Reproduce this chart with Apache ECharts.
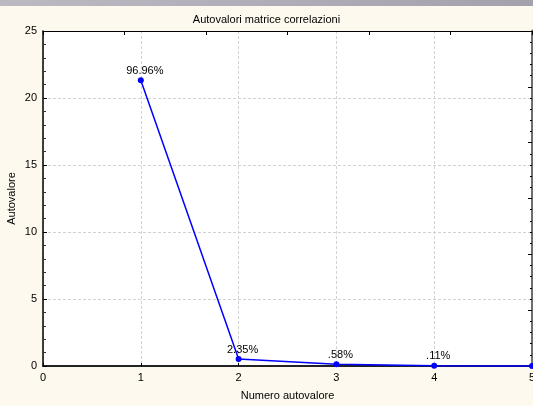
<!DOCTYPE html>
<html>
<head>
<meta charset="utf-8">
<script src="https://cdn.jsdelivr.net/npm/echarts@6/dist/echarts.min.js"></script>
<style>
  html, body { margin: 0; padding: 0; background: #fdf9ee; }
  #chart { width: 533px; height: 406px; }
</style>
</head>
<body>
<div id="chart"></div>
<script>
// Eigenvalues of the correlation matrix (scree plot)
const eigenIndex = [1, 2, 3, 4, 5];
const eigenValues = [21.33, 0.517, 0.128, 0.024, 0.003];
const varianceLabels = ['96.96%', '2.35%', '.58%', '.11%', ''];

const FONT = '"Liberation Sans", Arial, sans-serif';

const chart = echarts.init(document.getElementById('chart'), null, { renderer: 'canvas' });

const seriesData = eigenIndex.map((x, i) => ({
  value: [x, eigenValues[i]],
  label: { formatter: varianceLabels[i] }
}));

const gridLine = { show: true, lineStyle: { color: '#d2d2d2', type: [3, 2], width: 1 } };

chart.setOption({
  backgroundColor: '#fdf9ee',
  animation: false,
  title: {
    text: 'Autovalori matrice correlazioni',
    left: 'center',
    top: 9,
    textStyle: { fontFamily: FONT, fontSize: 11, fontWeight: 'normal', color: '#000' }
  },
  graphic: [{
    type: 'rect',
    left: 0, top: 0,
    shape: { width: 533, height: 6 },
    style: {
      fill: new echarts.graphic.LinearGradient(0, 0, 1, 0, [
        { offset: 0, color: '#bcb9c3' },
        { offset: 1, color: '#a3a1ab' }
      ])
    },
    silent: true
  }],
  grid: {
    left: 43, right: 1, top: 31, bottom: 40,
    containLabel: false,
    outerBoundsMode: 'none',
    backgroundColor: '#fff', show: true, borderWidth: 0
  },
  xAxis: [{
    type: 'value',
    min: 0, max: 5, interval: 1,
    name: 'Numero autovalore',
    nameLocation: 'middle',
    nameGap: 24,
    nameMoveOverlap: false,
    nameTextStyle: { fontFamily: FONT, fontSize: 11, color: '#000' },
    axisLine: { onZero: false, lineStyle: { color: '#222', width: 2 } },
    axisTick: { inside: true, length: 3, lineStyle: { color: '#000' } },
    axisLabel: { fontFamily: FONT, fontSize: 11, color: '#000', margin: 6 },
    splitLine: gridLine
  }, {
    type: 'value',
    position: 'top',
    min: 0, max: 6, interval: 1,
    axisLine: { onZero: false, lineStyle: { color: '#000', width: 1 } },
    axisTick: { inside: true, length: 4, lineStyle: { color: '#000' } },
    axisLabel: { show: false },
    splitLine: { show: false }
  }],
  yAxis: [{
    type: 'value',
    min: 0, max: 25, interval: 5,
    name: 'Autovalore',
    nameLocation: 'middle',
    nameGap: 26,
    nameMoveOverlap: false,
    nameTextStyle: { fontFamily: FONT, fontSize: 11, color: '#000' },
    axisLine: { show: true, onZero: false, lineStyle: { color: '#000', width: 1.5 } },
    axisTick: { inside: true, length: 4, lineStyle: { color: '#000' } },
    minorTick: { show: true, splitNumber: 5, length: 3, lineStyle: { color: '#333' } },
    axisLabel: { fontFamily: FONT, fontSize: 11, color: '#000', margin: 6 },
    splitLine: gridLine
  }, {
    type: 'value',
    position: 'right',
    min: 0, max: 6, interval: 1,
    axisLine: { show: true, onZero: false, lineStyle: { color: '#6e6e6e', width: 3 } },
    axisTick: { inside: true, length: 4, lineStyle: { color: '#000' } },
    minorTick: { show: true, splitNumber: 5, length: 2, lineStyle: { color: '#000' } },
    axisLabel: { show: false },
    splitLine: { show: false }
  }],
  series: [{
    type: 'line',
    xAxisIndex: 0,
    yAxisIndex: 0,
    data: seriesData,
    clip: false,
    symbol: 'circle',
    symbolSize: 6,
    lineStyle: { color: '#0000ff', width: 1.5 },
    itemStyle: { color: '#0000ff' },
    label: {
      show: true,
      position: 'top',
      offset: [4, 0],
      distance: 1,
      fontFamily: FONT,
      fontSize: 11,
      color: '#000'
    }
  }]
});
</script>
</body>
</html>
